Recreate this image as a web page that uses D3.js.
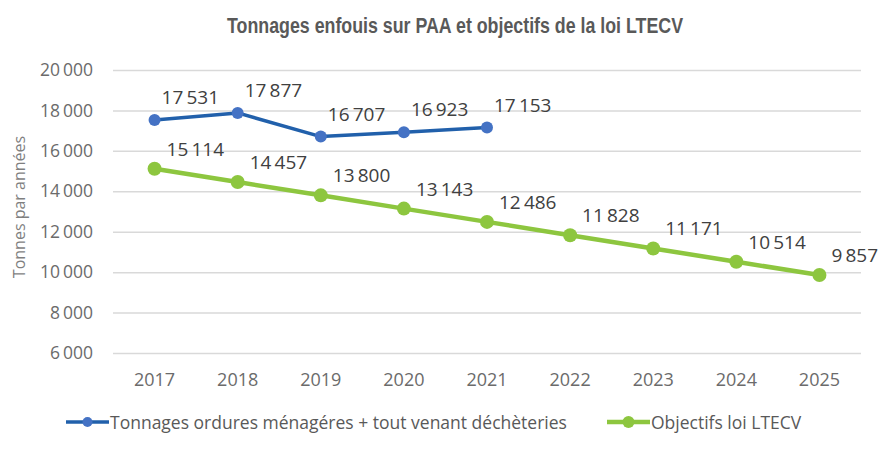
<!DOCTYPE html>
<html>
<head>
<meta charset="utf-8">
<script src="https://cdn.jsdelivr.net/npm/d3@7"></script>
<style>
  body { margin: 0; background: #fff; }
  svg { display: block; }
</style>
</head>
<body>
<svg class="chart" width="885" height="450"></svg>
<script>
var years = [2017, 2018, 2019, 2020, 2021, 2022, 2023, 2024, 2025];
var tonnages = [17531, 17877, 16707, 16923, 17153];
var objectifs = [15114, 14457, 13800, 13143, 12486, 11828, 11171, 10514, 9857];
var yTicks = [6000, 8000, 10000, 12000, 14000, 16000, 18000, 20000];
var seriesNames = ["Tonnages ordures ménagéres + tout venant déchèteries", "Objectifs loi LTECV"];

var WIDTH = 885, HEIGHT = 450;
var LEFT = 113, RIGHT = 861, TOP = 70, BOTTOM = 353;

var fmt = function(v){
  return d3.format(",")(v).replace(/,/g, "\u2009");
};

var toPoints = function(values){
  return values.map(function(v, i){ return {x: years[i], y: v}; });
};

var series = [
  {name: seriesNames[0], data: toPoints(tonnages), line: "#2160ab", dot: "#4472c4", width: 3.5, r: 6, dx: 7, dy: -23},
  {name: seriesNames[1], data: toPoints(objectifs), line: "#8dc63f", dot: "#8dc63f", width: 4.5, r: 7, dx: 12, dy: -20}
];

var svg = d3.select(".chart");

var xScale = d3.scaleBand()
  .domain(years)
  .range([LEFT, RIGHT]);

var yScale = d3.scaleLinear()
  .domain([6000, 20000])
  .range([BOTTOM, TOP]);

var cx = function(d){ return xScale(d.x) + xScale.bandwidth() / 2; };

// title (condensed look)
svg.append("text")
  .attr("x", 455)
  .attr("y", 25)
  .attr("text-anchor", "middle")
  .attr("dominant-baseline", "central")
  .attr("textLength", 456)
  .attr("lengthAdjust", "spacingAndGlyphs")
  .style("font-family", "'Liberation Sans', Arial, sans-serif")
  .style("font-weight", "bold")
  .style("font-size", "22px")
  .style("fill", "#595959")
  .text("Tonnages enfouis sur PAA et objectifs de la loi LTECV");

// grid + y labels
var yAxis = d3.axisLeft(yScale)
  .tickValues(yTicks)
  .tickSize(-(RIGHT - LEFT))
  .tickPadding(20)
  .tickFormat(fmt);

var gy = svg.append("g")
  .attr("transform", "translate(" + LEFT + ",0)")
  .call(yAxis);
gy.select(".domain").remove();
gy.selectAll(".tick line").attr("stroke", "#d9d9d9").attr("stroke-width", 1.5);
gy.selectAll(".tick text")
  .style("font-family", "'Open Sans', sans-serif")
  .style("font-size", "17.5px")
  .style("fill", "#6b6b6b");

// x labels
var xAxis = d3.axisBottom(xScale).tickSize(0).tickPadding(0);
var gx = svg.append("g")
  .attr("transform", "translate(0," + (BOTTOM + 27) + ")")
  .call(xAxis);
gx.select(".domain").remove();
gx.selectAll(".tick text")
  .attr("dy", "0.35em")
  .style("font-family", "'Open Sans', sans-serif")
  .style("font-size", "18px")
  .style("fill", "#6b6b6b");

// y title
svg.append("text")
  .attr("transform", "translate(19,207) rotate(-90)")
  .attr("text-anchor", "middle")
  .attr("dominant-baseline", "central")
  .style("font-family", "'Open Sans', sans-serif")
  .style("font-size", "16px")
  .style("fill", "#7f7f7f")
  .text("Tonnes par années");

var line = d3.line()
  .x(cx)
  .y(function(d){ return yScale(d.y); });

series.forEach(function(s){
  var g = svg.append("g");
  g.append("path")
    .attr("d", line(s.data))
    .attr("fill", "none")
    .attr("stroke", s.line)
    .attr("stroke-width", s.width)
    .attr("stroke-linejoin", "round");
  g.selectAll("circle")
    .data(s.data)
    .enter().append("circle")
    .attr("cx", cx)
    .attr("cy", function(d){ return yScale(d.y); })
    .attr("r", s.r)
    .attr("fill", s.dot);
  g.selectAll("text")
    .data(s.data)
    .enter().append("text")
    .attr("x", function(d){ return cx(d) + s.dx; })
    .attr("y", function(d){ return yScale(d.y) + s.dy; })
    .attr("dominant-baseline", "central")
    .style("font-family", "'Open Sans', sans-serif")
    .style("font-size", "19px")
    .style("fill", "#404040")
    .text(function(d){ return fmt(d.y); });
});

// legend
var legendX = [66, 607];
series.forEach(function(s, i){
  var lg = svg.append("g").attr("transform", "translate(" + legendX[i] + ",422)");
  lg.append("line")
    .attr("x1", 0).attr("x2", 43)
    .attr("stroke", s.line)
    .attr("stroke-width", s.width);
  lg.append("circle")
    .attr("cx", 21.5)
    .attr("r", s.r - 1)
    .attr("fill", s.dot);
  lg.append("text")
    .attr("x", 44)
    .attr("dominant-baseline", "central")
    .style("font-family", "'Open Sans', sans-serif")
    .style("font-size", "17.5px")
    .style("fill", "#595959")
    .text(s.name);
});
</script>
</body>
</html>
